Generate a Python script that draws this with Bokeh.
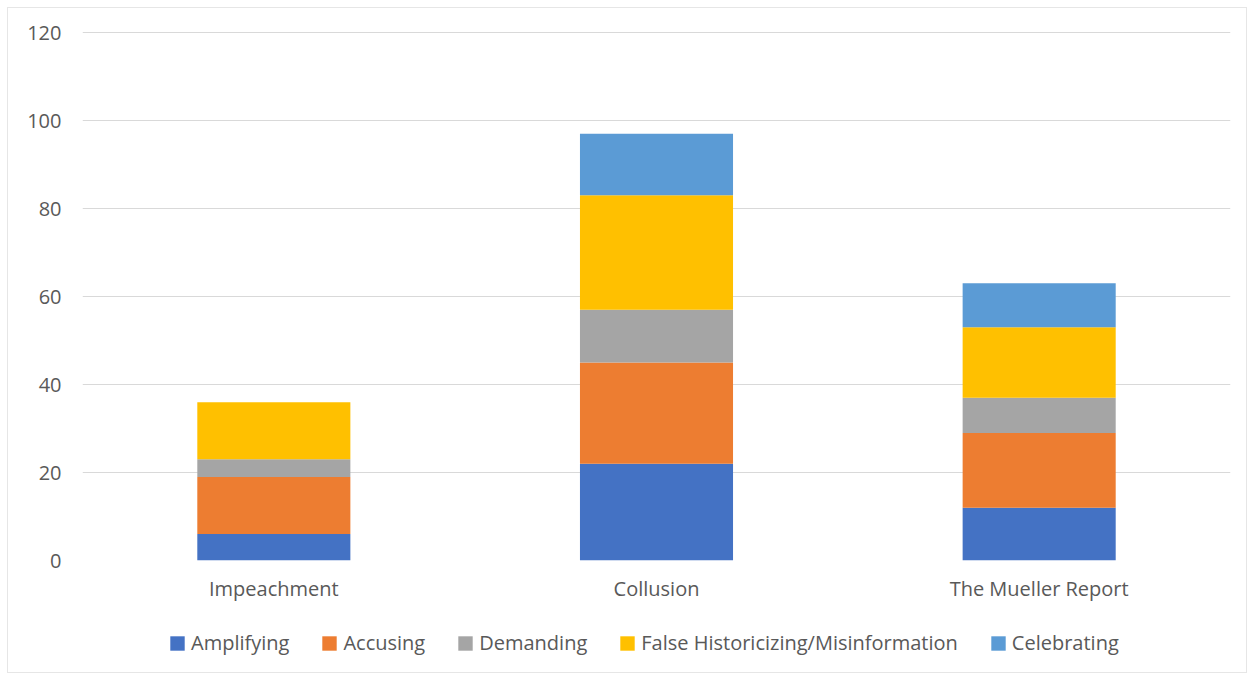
from bokeh.plotting import figure
from bokeh.layouts import column
from bokeh.models import ColumnDataSource, Legend, FixedTicker, Range1d
from bokeh.embed import file_html
from bokeh.resources import INLINE

categories = ["Impeachment", "Collusion", "The Mueller Report"]
series = ["Amplifying", "Accusing", "Demanding", "False Historicizing/Misinformation", "Celebrating"]
amplifying = [6, 22, 12]
accusing = [13, 23, 17]
demanding = [4, 12, 8]
false_hist = [13, 26, 16]
celebrating = [0, 14, 10]
colors = ["#4472C4", "#ED7D31", "#A5A5A5", "#FFC000", "#5B9BD5"]
y_ticks = [0, 20, 40, 60, 80, 100, 120]

source = ColumnDataSource(data=dict(
    cat=categories,
    Amplifying=amplifying,
    Accusing=accusing,
    Demanding=demanding,
    **{"False Historicizing/Misinformation": false_hist},
    Celebrating=celebrating,
))

FONT = "Open Sans"
TXT = "#595959"

# main chart
p = figure(x_range=categories, y_range=Range1d(0, 120.25),
           frame_width=1148, frame_height=529,
           output_backend="svg", toolbar_location=None,
           min_border_left=74, min_border_right=16, min_border_top=23, min_border_bottom=50)

p.vbar_stack(series, x="cat", width=0.4, source=source, color=colors, line_color=None)

p.outline_line_color = None
p.xgrid.grid_line_color = None
p.ygrid.grid_line_color = "#d9d9d9"
p.ygrid.grid_line_width = 1
p.yaxis.ticker = FixedTicker(ticks=y_ticks)
for ax in (p.xaxis[0], p.yaxis[0]):
    ax.axis_line_color = None
    ax.major_tick_line_color = None
    ax.minor_tick_line_color = None
    ax.major_label_text_font = FONT
    ax.major_label_text_font_size = "20px"
    ax.major_label_text_color = TXT
p.yaxis.major_label_standoff = 15
p.xaxis.major_label_standoff = 8

# legend strip (same series; glyphs kept outside its visible range)
lg = figure(x_range=categories, y_range=Range1d(1000, 1001), width=1238, height=62,
            output_backend="svg", toolbar_location=None,
            x_axis_type=None, y_axis_type=None,
            min_border_left=0, min_border_right=0, min_border_top=0, min_border_bottom=0)
lg.outline_line_color = None
lg.grid.grid_line_color = None
lrs = lg.vbar_stack(series, x="cat", width=0.4, source=source, color=colors, line_color=None)

legend = Legend(items=[(s, [r]) for s, r in zip(series, lrs)],
                orientation="horizontal", location=(86, 16))
legend.label_text_font = FONT
legend.label_text_font_size = "20px"
legend.label_text_color = TXT
legend.glyph_width = 18
legend.glyph_height = 18
legend.spacing = 31
legend.label_standoff = 5
legend.border_line_color = None
legend.background_fill_alpha = 0
legend.margin = 0
legend.padding = 2
lg.add_layout(legend, "center")

layout = column(p, lg, spacing=0)
layout.styles = {"border": "1px solid #e6e6e6", "margin-left": "7px", "margin-top": "7px"}

open("out.html", "w").write(file_html(layout, INLINE))
